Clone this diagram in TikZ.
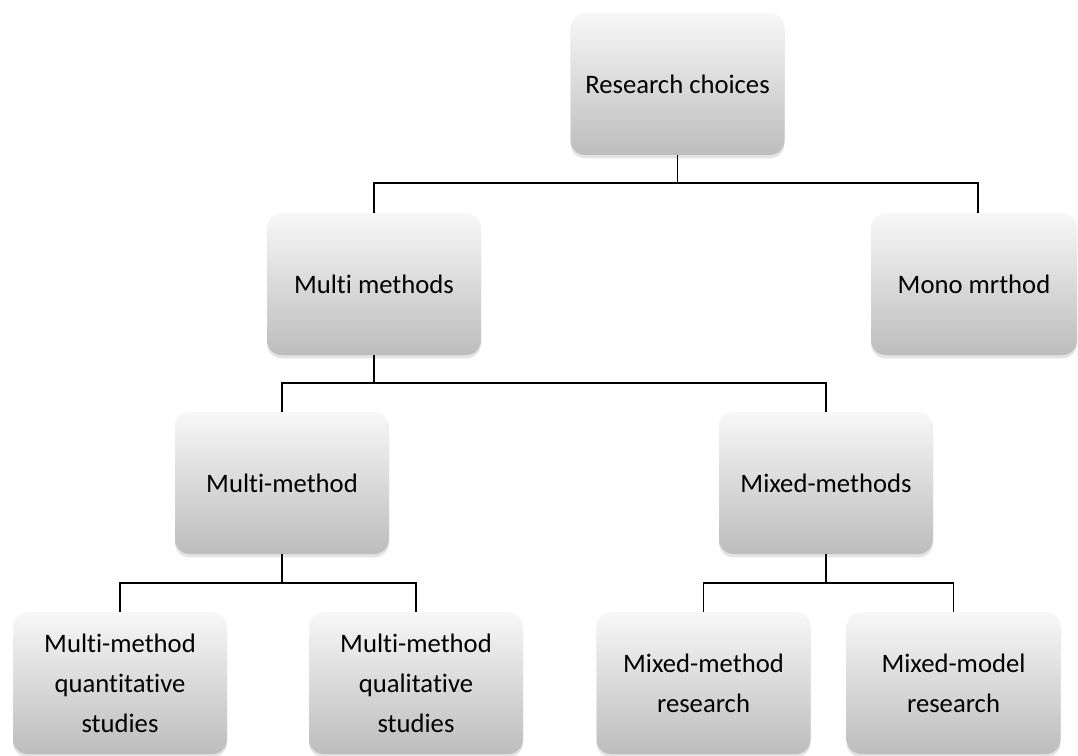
\documentclass[tikz,border=0pt]{standalone}
\usepackage{fontspec}
\setmainfont{Carlito}[Ligatures={NoCommon}]
\usetikzlibrary{shadows}
\begin{document}
\begin{tikzpicture}[x=0.75pt,y=-0.75pt,
  box/.style={rectangle, rounded corners=11pt, minimum width=160.5pt, minimum height=106.5pt,
    inner sep=0pt, top color=white!97!black, bottom color=black!26,
    drop shadow={opacity=0.22, shadow xshift=0pt, shadow yshift=-2.5pt},
    align=center, font=\fontsize{20}{30}\selectfont, text=black},
  conn/.style={draw=black, line width=1.4pt}]
\useasboundingbox (0,0) rectangle (1078,756);
% nodes
\node[box] (rc) at (677.5,84) {Research choices};
\node[box] (mm) at (374,284) {Multi methods};
\node[box, minimum width=154.5pt] (mono) at (974,284) {Mono mrthod};
\node[box] (mmd) at (282,483) {Multi-method};
\node[box] (mxd) at (826,483) {Mixed-methods};
\node[box] (qn) at (120,683) {Multi-method\\quantitative\\studies};
\node[box] (ql) at (416,683) {Multi-method\\qualitative\\studies};
\node[box] (mr) at (703.5,683) {Mixed-method\\research};
\node[box] (mo) at (953.5,683) {Mixed-model\\research};
% connectors
\coordinate (j1) at ([yshift=-21pt]rc.south);
\draw[conn] (rc.south) -- (j1) -| (mm.north);
\draw[conn] (j1) -| ([xshift=3pt]mono.north);
\coordinate (j2) at ([yshift=-21pt]mm.south);
\draw[conn] (mm.south) -- (j2) -| (mmd.north);
\draw[conn] (j2) -| (mxd.north);
\coordinate (j3) at ([yshift=-21.5pt]mmd.south);
\draw[conn] (mmd.south) -- (j3) -| (qn.north);
\draw[conn] (j3) -| (ql.north);
\coordinate (j4) at ([yshift=-21.5pt]mxd.south);
\draw[conn] (mxd.south) -- (j4) -| (mr.north);
\draw[conn] (j4) -| (mo.north);
\end{tikzpicture}
\end{document}
